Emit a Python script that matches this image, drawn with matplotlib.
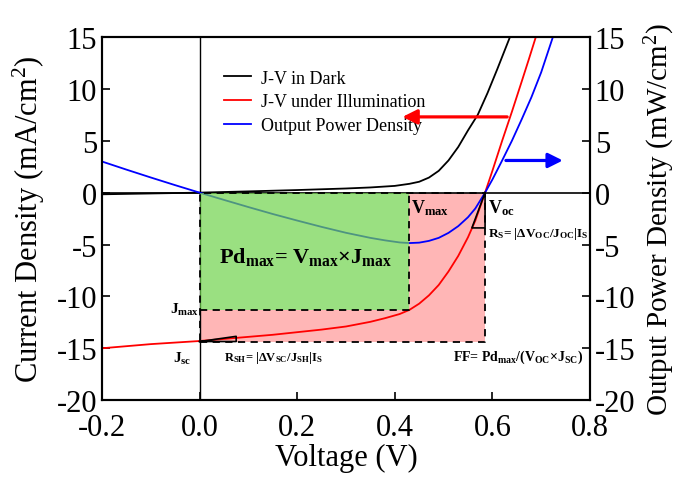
import matplotlib
matplotlib.use("Agg")
import matplotlib.pyplot as plt

plt.rcParams['font.family'] = ['Liberation Serif', 'DejaVu Serif']
plt.rcParams['mathtext.fontset'] = 'custom'
plt.rcParams['mathtext.rm'] = 'Liberation Serif'
plt.rcParams['mathtext.it'] = 'Liberation Serif:italic'
plt.rcParams['mathtext.bf'] = 'Liberation Serif:bold'
plt.rcParams['axes.unicode_minus'] = False

# J-V under illumination (V, mA/cm2)
v_light = [-0.2, -0.15, -0.1, -0.05, 0.0, 0.05, 0.1, 0.15, 0.2, 0.25, 0.3,
           0.35, 0.38, 0.41, 0.43, 0.45, 0.47, 0.49, 0.51, 0.53, 0.55, 0.565,
           0.585, 0.60, 0.62, 0.64, 0.66, 0.675, 0.689]
j_light = [-15.0, -14.8, -14.6, -14.45, -14.3, -14.1, -13.9, -13.7, -13.45,
           -13.2, -12.9, -12.45, -12.1, -11.7, -11.3, -10.7, -9.9, -8.9, -7.6,
           -6.1, -4.3, -2.7, 0.0, 2.1, 5.0, 7.8, 10.7, 12.9, 15.0]

# J-V in dark
v_dark = [-0.2, -0.1, 0.0, 0.1, 0.2, 0.3, 0.35, 0.4, 0.43, 0.45, 0.47, 0.49,
          0.51, 0.53, 0.55, 0.57, 0.59, 0.61, 0.636]
j_dark = [-0.16, -0.08, 0.0, 0.12, 0.25, 0.4, 0.5, 0.65, 0.85, 1.05, 1.45,
          2.1, 3.1, 4.4, 6.0, 7.5, 9.6, 11.9, 15.0]

# output power density (mW/cm2)
v_pow = [-0.2, -0.15, -0.1, -0.05, 0.0, 0.05, 0.1, 0.15, 0.2, 0.25, 0.3,
         0.35, 0.38, 0.41, 0.43, 0.45, 0.47, 0.49, 0.51, 0.53, 0.55, 0.565,
         0.585, 0.60, 0.62, 0.64, 0.66, 0.68, 0.70, 0.724]
p_pow = [3.0, 2.22, 1.46, 0.72, 0.0, -0.7, -1.39, -2.06, -2.69, -3.3, -3.87,
         -4.36, -4.6, -4.8, -4.86, -4.82, -4.65, -4.36, -3.88, -3.23, -2.37,
         -1.53, 0.0, 1.26, 3.1, 5.0, 7.06, 9.2, 11.6, 15.0]

# characteristic points
v_max, j_max = 0.43, -11.3
v_oc, j_sc = 0.585, -14.35

fig = plt.figure(figsize=(6.78, 4.81), dpi=100)
ax = fig.add_axes([0.1504, 0.166, 0.7198, 0.755])
ax2 = ax.twinx()

# pink area (V_oc x J_sc) outside the green box
ax.fill([0, v_oc, v_oc, v_max, v_max, 0],
        [j_sc, j_sc, 0, 0, j_max, j_max], color='#ffb6b6', lw=0, zorder=1)

ax.axhline(0, color='black', lw=1.2, zorder=2)
ax.axvline(0, color='black', lw=1.0, zorder=2)

ax.plot(v_dark, j_dark, color='black', lw=1.3, zorder=3, label='J-V in Dark')
ax.plot(v_light, j_light, color='red', lw=1.3, zorder=3, label='J-V under Illumination')
ax.plot(v_pow, p_pow, color='blue', lw=1.3, zorder=3, label='Output Power Density')

# green area (V_max x J_max) drawn over the power curve
ax.fill_between([0, v_max], [j_max, j_max], [0, 0], color='#70d44c', alpha=0.7,
                lw=0, zorder=4)

# dashed rectangles
ax.plot([0, v_oc, v_oc, 0, 0], [j_sc, j_sc, 0, 0, j_sc], color='black', lw=1.3,
        ls=(0, (4, 3)), zorder=5)
ax.plot([0, v_max, v_max], [j_max, j_max, 0], color='black', lw=1.3,
        ls=(0, (4, 3)), zorder=5)

# tangent triangles
ax.plot([0, 0.075, 0.075, 0], [j_sc, j_sc, j_sc + 0.5, j_sc], color='black',
        lw=1.2, zorder=5)
ax.plot([v_oc, v_oc, 0.558, v_oc], [0, -3.4, -3.4, 0], color='black', lw=1.2,
        zorder=5)

# arrows
ax.annotate('', xy=(0.41, 7.3), xytext=(0.636, 7.3),
            arrowprops=dict(arrowstyle='-|>', color='red', lw=2.3,
                            mutation_scale=22), zorder=6)
ax.annotate('', xy=(0.75, 3.1), xytext=(0.622, 3.1),
            arrowprops=dict(arrowstyle='-|>', color='blue', lw=2.3,
                            mutation_scale=22), zorder=6)

# annotations
bf = dict(fontweight='bold', zorder=7)
ax.text(0.218, -6.1, r'Pd$_{\mathbf{max}}$= V$_{\mathbf{max}}$×J$_{\mathbf{max}}$',
        fontsize=16, ha='center', va='center', **bf)
ax.text(0.434, -1.4, r'V$_{\mathbf{max}}$', fontsize=13, ha='left', va='center', **bf)
ax.text(0.59, -1.4, r'V$_{\mathbf{oc}}$', fontsize=13, ha='left', va='center', **bf)
ax.text(0.59, -3.9, r'R$_{\mathbf{S}}$= |ΔV$_{\mathbf{OC}}$/J$_{\mathbf{OC}}$|I$_{\mathbf{S}}$',
        fontsize=9.5, ha='left', va='center', **bf)
ax.text(0.0, -11.2, r'J$_{\mathbf{max}}$', fontsize=11, ha='right', va='center', **bf)
ax.text(-0.016, -15.9, r'J$_{\mathbf{sc}}$', fontsize=11, ha='right', va='center', **bf)
ax.text(0.05, -15.8, r'R$_{\mathbf{SH}}$= |ΔV$_{\mathbf{SC}}$/J$_{\mathbf{SH}}$|I$_{\mathbf{S}}$',
        fontsize=9, ha='left', va='center', **bf)
ax.text(0.52, -15.8, r'FF= Pd$_{\mathbf{max}}$/(V$_{\mathbf{OC}}$×J$_{\mathbf{SC}}$)',
        fontsize=10, ha='left', va='center', **bf)

ax.set_xlim(-0.2, 0.8)
ax.set_ylim(-20, 15)
ax2.set_ylim(-20, 15)
ax.set_xticks([-0.2, 0.0, 0.2, 0.4, 0.6, 0.8])
ax.set_xticklabels(['-0.2', '0.0', '0.2', '0.4', '0.6', '0.8'])
ticks_y = [-20, -15, -10, -5, 0, 5, 10, 15]
ax.set_yticks(ticks_y)
ax2.set_yticks(ticks_y)

for a in (ax, ax2):
    a.tick_params(direction='in', length=6, width=1.2, labelsize=22)
    for s in a.spines.values():
        s.set_linewidth(1.5)
ax.tick_params(axis='x', pad=9)

ax.set_xlabel('Voltage (V)', fontsize=22, labelpad=1)
ax.set_ylabel('Current Density (mA/cm$^2$)', fontsize=22, labelpad=7)
ax2.set_ylabel('Output Power Density (mW/cm$^2$)', fontsize=21, labelpad=5)

ax.legend(loc='upper left', bbox_to_anchor=(0.225, 0.945), frameon=False,
          fontsize=13, handlelength=1.5, handletextpad=0.5, labelspacing=0.38,
          borderaxespad=0.3)

fig.savefig('out.png', dpi=100)
